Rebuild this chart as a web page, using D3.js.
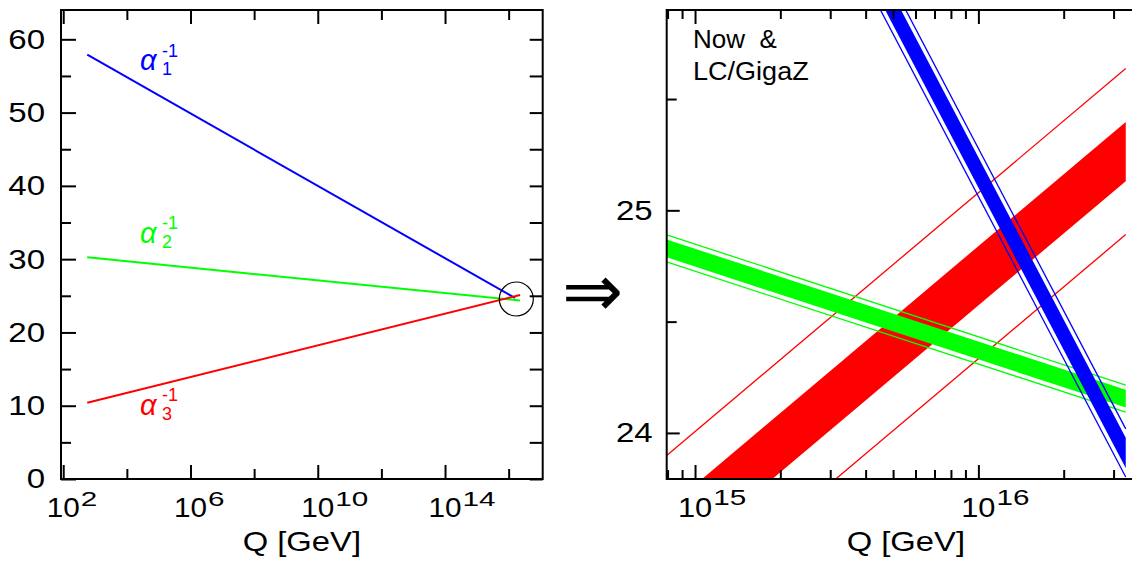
<!DOCTYPE html>
<html><head><meta charset="utf-8">
<script src="https://cdn.jsdelivr.net/npm/d3@7"></script>
<style>
html,body{margin:0;padding:0;background:#fff;}
svg{display:block;}
text{font-family:"Liberation Sans",Arial,Helvetica,sans-serif;}
</style></head><body>
<svg id="chart" width="1132" height="561"></svg>
<script>
// ---------- Left panel data (inverse couplings vs log10(Q/GeV), line end points) ----------
const a1LogQ = [2.755, 16.2];
const a1Inv  = [57.9, 24.7];
const a2LogQ = [2.755, 16.36];
const a2Inv  = [30.25, 24.35];
const a3LogQ = [2.755, 16.36];
const a3Inv  = [10.4, 25.1];
const leftXMajorExp = [2, 6, 10, 14];
const leftXMinorExp = [4, 8, 12, 16];
const leftYMajor = [0, 10, 20, 30, 40, 50, 60];
const leftYMinor = [5, 15, 25, 35, 45, 55];
const circleLogQ = 16.24;
const circleVal = 24.56;

// ---------- Right panel data (zoom near unification): band centre + half widths ----------
const redLogQ = [14.9, 16.52];
const redCenter = [23.526, 25.264];
const redInnerHalf = 0.133, redOuterHalf = 0.373;
const greenLogQ = [14.9, 16.52];
const greenCenter = [24.829, 24.154];
const greenInnerHalf = 0.040, greenOuterHalf = 0.061;
const blueLogQ = [15.6, 16.52];
const blueCenter = [26.14, 23.91];
const blueInnerHalf = 0.068, blueOuterHalf = 0.108;
const rightYMajor = [24, 25];
const rightYMinor = [24.5, 25.5];
const rightXMajorExp = [15, 16];

const svg = d3.select("#chart");
const FONT = '"Liberation Sans",Arial,Helvetica,sans-serif';
const WIDE = 1.18; // horizontal stretch of the axis lettering

function stretch(sel, f) {
  sel.each(function () {
    const l = this.getComputedTextLength();
    d3.select(this).attr("textLength", l * f).attr("lengthAdjust", "spacingAndGlyphs");
  });
}

// ================= LEFT PANEL =================
const L = {x0: 61, x1: 542.7, y0: 10, y1: 479};
const xL = d3.scaleLog().domain([10 ** 1.93, 10 ** 17.07]).range([L.x0, L.x1]);
const yL = d3.scaleLinear().domain([0, 64]).range([L.y1, L.y0]);

function styleAxis(g, fs) {
  g.select(".domain").remove();
  g.selectAll(".tick line").attr("stroke", "#000").attr("stroke-width", 2);
  g.attr("font-family", FONT).attr("font-size", fs);
  g.selectAll("text").attr("fill", "#000").call(s => stretch(s, WIDE));
}

const left = svg.append("g");
left.append("g").attr("transform", `translate(0,${L.y1})`)
  .call(d3.axisBottom(xL).tickValues(leftXMajorExp.map(e => 10 ** e)).tickSize(-14).tickFormat(""))
  .call(g => styleAxis(g, 27));
left.append("g").attr("transform", `translate(0,${L.y1})`)
  .call(d3.axisBottom(xL).tickValues(leftXMinorExp.map(e => 10 ** e)).tickSize(-10).tickFormat(""))
  .call(g => styleAxis(g, 27));
left.append("g").attr("transform", `translate(0,${L.y0})`)
  .call(d3.axisTop(xL).tickValues(leftXMajorExp.map(e => 10 ** e)).tickSize(-14).tickFormat(""))
  .call(g => styleAxis(g, 27));
left.append("g").attr("transform", `translate(0,${L.y0})`)
  .call(d3.axisTop(xL).tickValues(leftXMinorExp.map(e => 10 ** e)).tickSize(-10).tickFormat(""))
  .call(g => styleAxis(g, 27));
left.append("g").attr("transform", `translate(${L.x0},0)`)
  .call(d3.axisLeft(yL).tickValues(leftYMajor).tickSize(-15).tickPadding(16).tickFormat(d3.format("d")))
  .call(g => styleAxis(g, 28));
left.append("g").attr("transform", `translate(${L.x0},0)`)
  .call(d3.axisLeft(yL).tickValues(leftYMinor).tickSize(-10).tickFormat(""))
  .call(g => styleAxis(g, 28));
left.append("g").attr("transform", `translate(${L.x1},0)`)
  .call(d3.axisRight(yL).tickValues(leftYMajor.concat(leftYMinor)).tickSize(-13).tickFormat(""))
  .call(g => styleAxis(g, 28));

left.append("rect").attr("x", L.x0).attr("y", L.y0)
  .attr("width", L.x1 - L.x0).attr("height", L.y1 - L.y0)
  .attr("fill", "none").attr("stroke", "#000").attr("stroke-width", 2);

// x tick labels 10^n  ("10" centred on the tick, exponent to its right)
function powLabel(g, x, y, exp, fs, sfs, rise) {
  const s = String(exp);
  g.append("text").attr("x", x).attr("y", y).attr("text-anchor", "middle")
    .attr("font-size", fs).attr("fill", "#000").text("10")
    .attr("textLength", 1.112 * fs * 1.1).attr("lengthAdjust", "spacingAndGlyphs");
  g.append("text").attr("x", x + 0.556 * fs * 1.1 + 1).attr("y", y - rise)
    .attr("font-size", sfs).attr("fill", "#000").text(s)
    .attr("textLength", 16.5 * s.length).attr("lengthAdjust", "spacingAndGlyphs");
}
leftXMajorExp.forEach(e => powLabel(left, xL(10 ** e), 516.7, e, 27, 21, 10.5));

left.append("text").attr("x", (L.x0 + L.x1) / 2).attr("y", 551).attr("fill", "#000")
  .attr("text-anchor", "middle").attr("font-size", 28).text("Q [GeV]")
  .call(s => stretch(s, 1.17));

// lines
const lineL = d3.line().x(d => xL(10 ** d[0])).y(d => yL(d[1]));
[[a1LogQ, a1Inv, "#0000ff"], [a2LogQ, a2Inv, "#00ff00"], [a3LogQ, a3Inv, "#ff0000"]].forEach(([lq, v, c]) => {
  left.append("path").datum(lq.map((q, i) => [q, v[i]]))
    .attr("d", lineL).attr("fill", "none").attr("stroke", c).attr("stroke-width", 2);
});

// alpha labels
function alphaLabel(x, y, idx, color) {
  const g = left.append("g");
  g.append("text").attr("x", x).attr("y", y).attr("font-size", 29)
    .attr("font-style", "italic").attr("fill", color).text("α");
  g.append("text").attr("x", x + 22).attr("y", y + 5.3).attr("font-size", 18)
    .attr("fill", color).text(String(idx));
  g.append("text").attr("x", x + 22).attr("y", y - 13.5).attr("font-size", 18)
    .attr("fill", color).text("-1");
}
alphaLabel(xL(10 ** 4.41), yL(55.8), 1, "#0000ff");
alphaLabel(xL(10 ** 4.41), yL(32.25), 2, "#00ff00");
alphaLabel(xL(10 ** 4.41), yL(8.75), 3, "#ff0000");

// circle marking the zoomed region
left.append("circle").attr("cx", xL(10 ** circleLogQ)).attr("cy", yL(circleVal)).attr("r", 17)
  .attr("fill", "none").attr("stroke", "#000").attr("stroke-width", 1.2);

// arrow
svg.append("text").attr("x", 562).attr("y", 316).attr("font-size", 73).attr("fill", "#000")
  .attr("font-family", '"DejaVu Sans"').text("⇒");

// ================= RIGHT PANEL =================
const R = {x0: 666.7, x1: 1145, y0: 10, y1: 479};
const xR = d3.scaleLog().domain([10 ** 14.9, 10 ** 16.588]).range([R.x0, R.x1]);
const yR = d3.scaleLinear().domain([23.793, 25.9]).range([R.y1, R.y0]);
const right = svg.append("g");

svg.append("defs").append("clipPath").attr("id", "clipR")
  .append("rect").attr("x", R.x0).attr("y", R.y0).attr("width", R.x1 - R.x0).attr("height", R.y1 - R.y0);
const plot = right.append("g").attr("clip-path", "url(#clipR)");

function band(lq, cen, inner, outer, color) {
  const pts = lq.map((q, i) => ({q: q, c: cen[i]}));
  const area = d3.area().x(d => xR(10 ** d.q)).y0(d => yR(d.c - inner)).y1(d => yR(d.c + inner));
  plot.append("path").datum(pts).attr("d", area).attr("fill", color).attr("stroke", "none");
  [-outer, outer].forEach(off => {
    const ln = d3.line().x(d => xR(10 ** d.q)).y(d => yR(d.c + off));
    plot.append("path").datum(pts).attr("d", ln).attr("fill", "none")
      .attr("stroke", color).attr("stroke-width", 1.3);
  });
}
band(redLogQ, redCenter, redInnerHalf, redOuterHalf, "#ff0000");
band(greenLogQ, greenCenter, greenInnerHalf, greenOuterHalf, "#00ff00");
band(blueLogQ, blueCenter, blueInnerHalf, blueOuterHalf, "#0000ff");

const allTicks = xR.ticks().filter(t => t >= xR.domain()[0] && t <= xR.domain()[1]);
const isMajor = t => Math.abs(Math.log10(t) - Math.round(Math.log10(t))) < 1e-9;
const majT = allTicks.filter(isMajor), minT = allTicks.filter(t => !isMajor(t));

right.append("g").attr("transform", `translate(0,${R.y1})`)
  .call(d3.axisBottom(xR).tickValues(majT).tickSize(-14).tickFormat(""))
  .call(g => styleAxis(g, 28));
right.append("g").attr("transform", `translate(0,${R.y1})`)
  .call(d3.axisBottom(xR).tickValues(minT).tickSize(-9).tickFormat(""))
  .call(g => styleAxis(g, 28));
right.append("g").attr("transform", `translate(0,${R.y0})`)
  .call(d3.axisTop(xR).tickValues(majT).tickSize(-14).tickFormat(""))
  .call(g => styleAxis(g, 28));
right.append("g").attr("transform", `translate(0,${R.y0})`)
  .call(d3.axisTop(xR).tickValues(minT).tickSize(-9).tickFormat(""))
  .call(g => styleAxis(g, 28));
right.append("g").attr("transform", `translate(${R.x0},0)`)
  .call(d3.axisLeft(yR).tickValues(rightYMajor).tickSize(-13).tickPadding(14).tickFormat(d3.format("d")))
  .call(g => styleAxis(g, 28));
right.append("g").attr("transform", `translate(${R.x0},0)`)
  .call(d3.axisLeft(yR).tickValues(rightYMinor).tickSize(-10).tickFormat(""))
  .call(g => styleAxis(g, 28));

right.append("rect").attr("x", R.x0).attr("y", R.y0)
  .attr("width", R.x1 - R.x0).attr("height", R.y1 - R.y0)
  .attr("fill", "none").attr("stroke", "#000").attr("stroke-width", 2);

rightXMajorExp.forEach(e => powLabel(right, xR(10 ** e), 516.7, e, 28, 22, 11.5));
right.append("text").attr("x", (R.x0 + R.x1) / 2).attr("y", 551).attr("fill", "#000")
  .attr("text-anchor", "middle").attr("font-size", 28).text("Q [GeV]")
  .call(s => stretch(s, 1.17));

right.append("text").attr("x", 693).attr("y", 48.3).attr("font-size", 26).attr("fill", "#000")
  .attr("xml:space", "preserve").style("white-space", "pre").text("Now  &");
right.append("text").attr("x", 693).attr("y", 80).attr("font-size", 26).attr("fill", "#000")
  .text("LC/GigaZ").call(s => stretch(s, 1.04));
</script>
</body></html>
